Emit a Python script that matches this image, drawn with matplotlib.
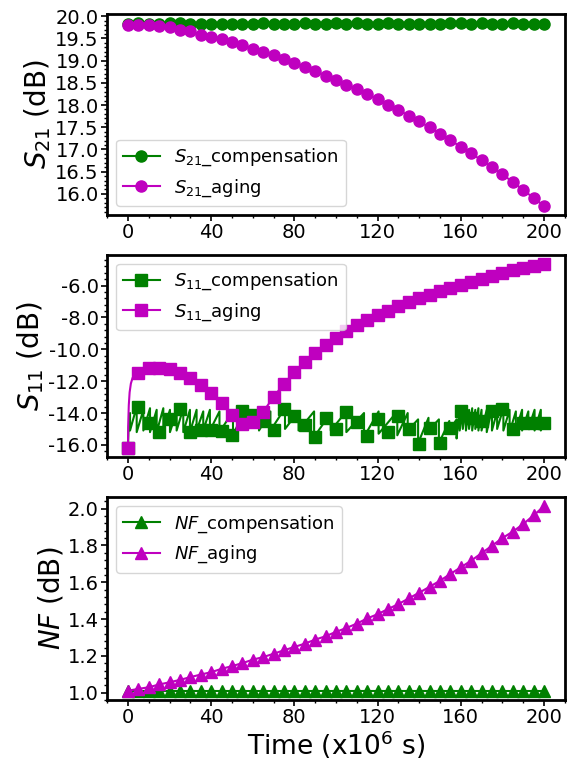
import matplotlib
matplotlib.use("Agg")
import matplotlib.pyplot as plt
from matplotlib.ticker import MultipleLocator, AutoMinorLocator, FormatStrFormatter
from matplotlib.lines import Line2D

# time axis of the markers (x10^6 s)
t_marks = list(range(0, 201, 5))

s21_comp = [19.83, 19.85, 19.83, 19.83, 19.84, 19.84, 19.83, 19.83, 19.83, 19.83,
            19.83, 19.83, 19.83, 19.84, 19.83, 19.83, 19.83, 19.84, 19.83, 19.83,
            19.84, 19.83, 19.84, 19.83, 19.83, 19.84, 19.83, 19.83, 19.82, 19.83,
            19.83, 19.84, 19.84, 19.83, 19.84, 19.83, 19.83, 19.84, 19.83, 19.83, 19.83]
s21_aging = [19.81, 19.81, 19.81, 19.79, 19.75, 19.70, 19.66, 19.58, 19.54, 19.48,
             19.41, 19.34, 19.27, 19.19, 19.12, 19.03, 18.95, 18.86, 18.77, 18.66,
             18.57, 18.46, 18.35, 18.24, 18.13, 18.01, 17.89, 17.76, 17.63, 17.50,
             17.35, 17.21, 17.06, 16.91, 16.76, 16.60, 16.44, 16.27, 16.09, 15.91, 15.73]

# S11 aging: a few extra points for the steep start
s11_aging_t = [0, 0.15, 0.4, 0.8, 1.4, 2.2, 3.2] + t_marks[1:]
s11_aging = [-16.17, -14.6, -13.5, -12.7, -12.15, -11.8, -11.62,
             -11.51, -11.20, -11.15, -11.26, -11.47, -11.79, -12.21, -12.73, -13.37,
             -14.10, -14.67, -14.59, -13.93, -12.99, -12.17, -11.43, -10.80, -10.21, -9.75,
             -9.28, -8.86, -8.48, -8.15, -7.85, -7.58, -7.30, -7.05, -6.80, -6.59,
             -6.35, -6.16, -5.96, -5.77, -5.58, -5.41, -5.22, -5.05, -4.90, -4.76, -4.63]

# S11 compensation: markers + sawtooth (drop time, peak before drop, value after drop)
s11_comp = [-16.17, -13.62, -14.60, -15.22, -14.40, -13.75, -15.22, -15.05, -15.05, -15.16,
            -15.37, -13.85, -14.10, -14.52, -15.05, -13.75, -14.21, -14.78, -15.48, -14.32,
            -14.99, -13.96, -14.59, -15.43, -14.38, -15.22, -14.21, -15.00, -15.92, -14.97,
            -15.88, -14.94, -13.85, -14.30, -14.50, -13.90, -13.75, -15.00, -14.60, -14.60, -14.60]
saw_t = [1.0, 4.2, 7.4, 10.6, 13.8, 17.0, 20.2, 23.4, 26.6, 29.8, 33.0, 36.2, 39.4,
         44.0, 50.5, 56.0, 63.0, 68.5, 75.5, 82.0, 89.5, 97.5, 105.0, 113.5, 120.5,
         129.5, 134.5, 139.5, 144.5, 149.5, 154.5, 158.0,
         159.5, 161.0, 162.5, 164.0, 165.5, 167.0, 168.5, 170.0, 172.5, 175.0, 177.5,
         180.5, 183.5, 186.5, 189.5, 192.5, 195.5, 198.5]
saw_high = [-14.0, -13.6, -13.8, -13.7, -13.8, -13.7, -13.8, -13.9, -13.7, -13.8, -13.8, -13.9, -13.8,
            -13.9, -13.9, -13.8, -14.0, -13.9, -13.7, -13.9, -13.9, -14.0, -13.9, -14.0, -13.9,
            -13.9, -14.0, -14.4, -14.3, -14.4, -14.5, -14.4,
            -13.7, -13.8, -13.7, -13.8, -13.7, -13.8, -13.7, -13.8, -13.8, -13.7, -13.9,
            -13.7, -13.8, -13.9, -13.8, -13.9, -13.8, -13.8]
saw_low = [-15.1, -15.2, -15.1, -15.2, -15.2, -15.1, -15.2, -15.1, -15.2, -15.2, -15.1, -15.1, -15.1,
           -15.2, -15.4, -15.0, -15.1, -15.1, -15.0, -15.1, -15.5, -15.1, -15.2, -15.5, -15.3,
           -15.4, -15.1, -15.9, -15.1, -15.9, -15.1, -15.6,
           -15.1, -15.0, -15.1, -15.0, -15.1, -15.0, -15.1, -15.1, -15.2, -15.1, -15.0,
           -15.1, -15.2, -15.1, -15.1, -15.0, -15.1, -15.1]

nf_comp = [1.01] * 41
nf_aging = [1.010, 1.020, 1.029, 1.044, 1.056, 1.069, 1.084, 1.098, 1.111, 1.129,
            1.144, 1.160, 1.179, 1.193, 1.211, 1.230, 1.248, 1.266, 1.288, 1.306,
            1.330, 1.351, 1.375, 1.403, 1.426, 1.454, 1.481, 1.512, 1.543, 1.575,
            1.608, 1.645, 1.681, 1.717, 1.758, 1.798, 1.840, 1.875, 1.916, 1.963, 2.013]

green = "#008000"
magenta = "#bf00bf"
MS = 8


def style_axis(ax, ystep, ylabel):
    ax.xaxis.set_major_locator(MultipleLocator(40))
    ax.xaxis.set_minor_locator(AutoMinorLocator(4))
    ax.yaxis.set_major_locator(MultipleLocator(ystep))
    ax.yaxis.set_minor_locator(AutoMinorLocator(5))
    ax.yaxis.set_major_formatter(FormatStrFormatter("%.1f"))
    ax.tick_params(labelsize=14, width=1.2, length=4, pad=2)
    ax.tick_params(which="minor", width=1, length=2.5)
    for s in ax.spines.values():
        s.set_linewidth(2.0)
    ax.set_ylabel(ylabel, fontsize=20, labelpad=2)


fig = plt.figure(figsize=(5.67, 7.6), dpi=100)
ax1 = fig.add_axes([0.189, 0.717, 0.807, 0.265])
ax2 = fig.add_axes([0.189, 0.399, 0.807, 0.266])
ax3 = fig.add_axes([0.189, 0.079, 0.807, 0.267])

# top: S21
ax1.plot(t_marks, s21_comp, "-o", color=green, ms=MS, lw=1.5, label=r"$S_{21}$_compensation")
ax1.plot(t_marks, s21_aging, "-o", color=magenta, ms=MS, lw=1.5, label=r"$S_{21}$_aging")
style_axis(ax1, 0.5, r"$S_{21}$ (dB)")
ax1.legend(loc="lower left", fontsize=13, handlelength=2.0)

# middle: S11
saw_x = [0, 0.3]
saw_y = [s11_comp[0], -14.9]
for t, hi, lo in zip(saw_t, saw_high, saw_low):
    saw_x += [t, t]
    saw_y += [hi, lo]
saw_x.append(200)
saw_y.append(s11_comp[-1])
ax2.plot(saw_x, saw_y, "-", color=green, lw=1.5)
ax2.plot(t_marks, s11_comp, "s", color=green, ms=MS)
marks_idx = [i for i, t in enumerate(s11_aging_t) if t % 5 == 0]
ax2.plot(s11_aging_t, s11_aging, "-s", color=magenta, ms=MS, lw=1.5, markevery=marks_idx)
style_axis(ax2, 2.0, r"$S_{11}$ (dB)")
handles = [Line2D([], [], color=green, marker="s", ms=MS, lw=1.5),
           Line2D([], [], color=magenta, marker="s", ms=MS, lw=1.5)]
ax2.legend(handles, [r"$S_{11}$_compensation", r"$S_{11}$_aging"], loc="upper left", fontsize=13)

# bottom: NF
ax3.plot(t_marks, nf_comp, "-^", color=green, ms=MS, lw=1.5, label=r"$NF$_compensation")
ax3.plot(t_marks, nf_aging, "-^", color=magenta, ms=MS, lw=1.5, label=r"$NF$_aging")
style_axis(ax3, 0.2, r"$NF$ (dB)")
ax3.legend(loc="upper left", fontsize=13)
ax3.set_xlabel(r"Time (x10$^6$ s)", fontsize=19, labelpad=1)

fig.savefig("out.png", dpi=100)
